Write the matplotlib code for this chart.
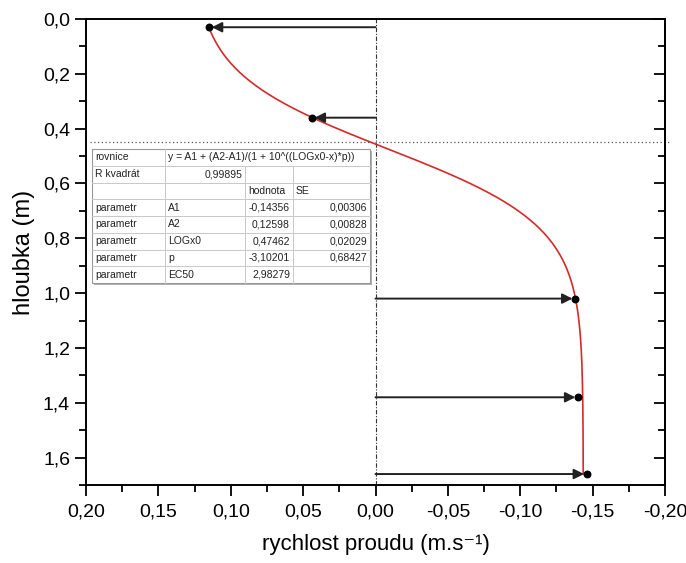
import numpy as np
import matplotlib
matplotlib.use("Agg")
import matplotlib.pyplot as plt
from matplotlib.ticker import MultipleLocator, FuncFormatter
from matplotlib.patches import Rectangle
from matplotlib.lines import Line2D

plt.rcParams['font.family'] = ['Liberation Sans', 'DejaVu Sans']

# measured points
depth = [0.03, 0.36, 1.02, 1.38, 1.66]
velocity = [0.115, 0.044, -0.138, -0.140, -0.146]

# fit parameters (shown in table)
A1 = -0.14356
A2 = 0.12598
LOGx0 = 0.47462
p = -3.10201
depth_range = [0.03, 1.66]
dotted_depth = 0.45

table_rows = [
    ["rovnice", "y = A1 + (A2-A1)/(1 + 10^((LOGx0-x)*p))", None, None],
    ["R kvadrát", "0,99895", "", ""],
    ["", "", "hodnota", "SE"],
    ["parametr", "A1", "-0,14356", "0,00306"],
    ["parametr", "A2", "0,12598", "0,00828"],
    ["parametr", "LOGx0", "0,47462", "0,02029"],
    ["parametr", "p", "-3,10201", "0,68427"],
    ["parametr", "EC50", "2,98279", ""],
]

W, H = 686, 563
fig = plt.figure(figsize=(W / 100, H / 100), dpi=100)
ax = fig.add_axes([86 / W, 1 - 485 / H, (665 - 86) / W, (485 - 19) / H])

ax.set_xlim(0.20, -0.20)
ax.set_ylim(1.70, 0.0)

# fitted curve
d = np.linspace(depth_range[0], depth_range[1], 400)
v = A1 + (A2 - A1) / (1 + 10 ** ((LOGx0 - d) * p))
ax.plot(v, d, color='#d42a2a', lw=1.2, zorder=3)

# vertical dash-dot at zero
ax.axvline(0, color='#333333', lw=0.8, ls=(0, (4, 1.5, 1, 1.5)), zorder=2)
# horizontal dotted line
ax.plot([0.197, -0.2035], [dotted_depth, dotted_depth], color='#555555', lw=0.9,
        ls=(0, (1, 2)), clip_on=False, zorder=2)

# arrows
for dd, vv in zip(depth, velocity):
    ax.annotate("", xy=(vv, dd), xytext=(0, dd),
                arrowprops=dict(arrowstyle='-|>', color='#222222', lw=1.4,
                                mutation_scale=15, shrinkA=0, shrinkB=2),
                zorder=4)
ax.scatter(velocity, depth, s=22, color='black', zorder=5)

# ticks
ax.xaxis.set_major_locator(MultipleLocator(0.05))
ax.xaxis.set_minor_locator(MultipleLocator(0.025))
ax.yaxis.set_major_locator(MultipleLocator(0.2))
ax.yaxis.set_minor_locator(MultipleLocator(0.1))
ax.xaxis.set_major_formatter(FuncFormatter(lambda x, pos: f"{x:.2f}".replace('.', ',').replace('-0,00', '0,00')))
ax.yaxis.set_major_formatter(FuncFormatter(lambda y, pos: f"{y:.1f}".replace('.', ',')))
ax.tick_params(axis='both', which='major', direction='out', length=8, width=1.3,
               labelsize=14, top=False, right=False)
ax.tick_params(axis='both', which='minor', direction='out', length=5, width=1.3,
               top=False, right=False)
ax.tick_params(axis='x', pad=5)
for s in ax.spines.values():
    s.set_linewidth(1.4)

sec = ax.secondary_yaxis('right')
sec.yaxis.set_major_locator(MultipleLocator(0.2))
sec.yaxis.set_minor_locator(MultipleLocator(0.1))
sec.tick_params(which='major', direction='in', length=8, width=1.3, labelright=False)
sec.tick_params(which='minor', direction='in', length=5, width=1.3)
sec.spines['right'].set_linewidth(1.4)

ax.set_xlabel("rychlost proudu (m.s⁻¹)", fontsize=16, labelpad=10)
ax.set_ylabel("hloubka (m)", fontsize=17, labelpad=6)

# table (drawn in pixel coords)
def fx(x):
    return x / W

def fy(y):
    return 1 - y / H

cols = [92, 165, 245, 293, 370]
top, bottom = 149, 283
rh = (bottom - top) / len(table_rows)
# shadow
fig.add_artist(Rectangle((fx(cols[0] + 2), fy(bottom + 2)), fx(cols[-1] - cols[0]), (bottom - top) / H,
                         transform=fig.transFigure, facecolor='#b0b0b0', edgecolor='none', zorder=6))
fig.add_artist(Rectangle((fx(cols[0]), fy(bottom)), fx(cols[-1] - cols[0]), (bottom - top) / H,
                         transform=fig.transFigure, facecolor='white', edgecolor='#999999', lw=0.8, zorder=7))
for i, row in enumerate(table_rows):
    y0 = top + i * rh
    y1 = y0 + rh
    if i > 0:
        fig.add_artist(Line2D([fx(cols[0]), fx(cols[-1])], [fy(y0), fy(y0)], transform=fig.transFigure,
                              color='#c8c8c8', lw=0.7, zorder=8))
    for j, txt in enumerate(row):
        if txt is None:
            continue
        if j > 0:
            fig.add_artist(Line2D([fx(cols[j]), fx(cols[j])], [fy(y0), fy(y1)], transform=fig.transFigure,
                                  color='#c8c8c8', lw=0.7, zorder=8))
        if not txt:
            continue
        numeric = txt[0].isdigit() or txt[0] == '-'
        if numeric and j >= 1:
            endcol = j + 1
            fig.text(fx(cols[endcol] - 3), fy((y0 + y1) / 2), txt, fontsize=7.5, ha='right', va='center',
                     color='#222222', zorder=9)
        else:
            fig.text(fx(cols[j] + 3), fy((y0 + y1) / 2), txt, fontsize=7.5, ha='left', va='center',
                     color='#222222', zorder=9)

fig.savefig("out.png", dpi=100)
